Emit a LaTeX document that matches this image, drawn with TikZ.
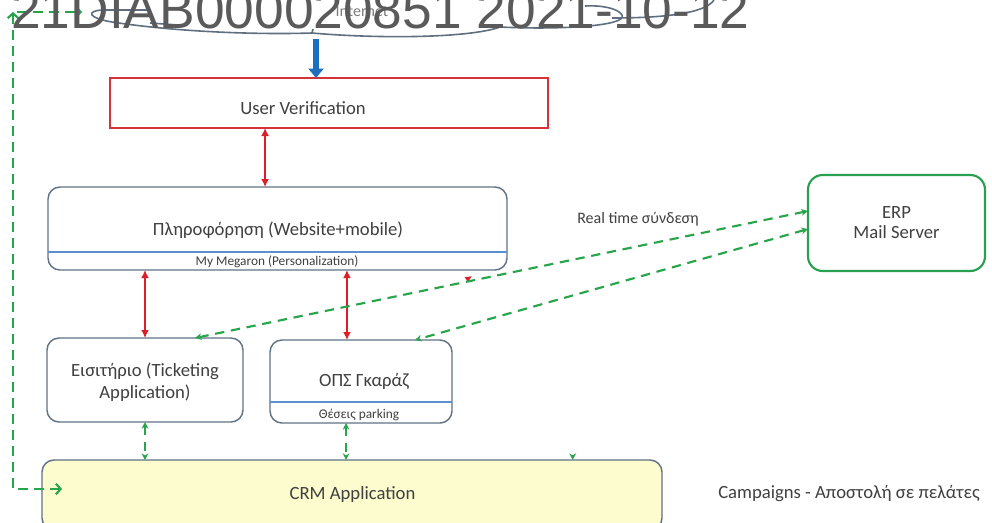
\documentclass[tikz,border=0pt]{standalone}
\usepackage{fontspec}
\setmainfont{Carlito}
\newfontfamily\stampfont{Liberation Sans}
\usetikzlibrary{arrows.meta}
\usetikzlibrary{calc}

\begin{document}
\begin{tikzpicture}[x=0.75pt,y=0.75pt,yscale=-1,xscale=1,
  appbox/.style={draw={rgb, 255:red, 98; green, 114; blue, 135 }, line width=1.1pt, rounded corners=9pt, inner sep=0pt, outer sep=0pt},
  verifbox/.style={draw={rgb, 255:red, 214; green, 50; blue, 58 }, line width=1.3pt, inner sep=0pt, outer sep=0pt},
  erpbox/.style={draw={rgb, 255:red, 40; green, 160; blue, 80 }, line width=1.6pt, rounded corners=11pt, inner sep=0pt, outer sep=0pt, align=center, text={rgb, 255:red, 64; green, 64; blue, 64 }, font=\fontsize{14}{15}\selectfont},
  divider/.style={draw={rgb, 255:red, 91; green, 145; blue, 205 }, line width=0.9pt},
  cloudline/.style={draw={rgb, 255:red, 95; green, 111; blue, 128 }, line width=1.2pt},
  bluearrow/.style={draw={rgb, 255:red, 30; green, 110; blue, 190 }, line width=4.5pt, -{Triangle[width=11pt,length=7pt]}},
  redlink/.style={draw={rgb, 255:red, 220; green, 30; blue, 40 }, line width=1.5pt, {Latex[length=6pt,width=6pt]}-{Latex[length=6pt,width=6pt]}},
  greenlink/.style={draw={rgb, 255:red, 40; green, 165; blue, 75 }, line width=1.6pt, dash pattern=on 7pt off 5pt},
  gboth/.style={{Stealth[length=5pt,width=5pt]}-{Stealth[length=5pt,width=5pt]}},
  barbboth/.style={{Straight Barb[length=3.5pt,width=8pt]}-{Straight Barb[length=3.5pt,width=8pt]}},
  lbl/.style={text={rgb, 255:red, 64; green, 64; blue, 64 }, font=\fontsize{14}{16.5}\selectfont, inner sep=0pt, anchor=base},
  smalllbl/.style={lbl, font=\fontsize{10}{12}\selectfont}]
\useasboundingbox[fill=white] (0,0) rectangle (992,522);

%Shape: Cloud
\draw[cloudline] (148,10) -- (102,10) .. controls (86,11) and (88,18) .. (112,22) .. controls (170,31) and (250,35) .. (312,33) .. controls (380,39) and (470,38) .. (500,27) .. controls (560,30) and (628,26) .. (622,15) .. controls (618,8) and (600,5) .. (585,6) ;
\draw[cloudline] (612,18) .. controls (660,18) and (705,14) .. (714,0) ;
\draw[cloudline] (150,23) -- (178,25) ;
\draw[cloudline] (312,33) -- (313,29) ;
% Text Node
\node[lbl, font=\fontsize{12}{14}\selectfont, text={rgb, 255:red, 125; green, 125; blue, 125 }] (cloudText) at (362,16) {Internet};
\coordinate (cloudB) at (316,39);
\coordinate (cloudL) at (82,12);

%Shape: Rectangle
\node[verifbox, minimum width=328.5pt, minimum height=37.5pt] (verif) at (329,103) {};
%Shape: Rounded Rect
\node[appbox, minimum width=344.25pt, minimum height=62.25pt] (info) at (277.5,228.5) {};
\draw[divider] ($(info.south west)!0.217!(info.north west)$) -- ($(info.south east)!0.217!(info.north east)$) ;
%Shape: Rounded Rect
\node[appbox, minimum width=147pt, minimum height=63pt] (ticket) at (145,380) {};
%Shape: Rounded Rect
\node[appbox, minimum width=136.5pt, minimum height=62.25pt] (ops) at (361,381.5) {};
\draw[divider] ($(ops.south west)!0.253!(ops.north west)$) -- ($(ops.south east)!0.253!(ops.north east)$) ;
%Shape: Rounded Rect
\node[appbox, fill={rgb, 255:red, 252; green, 252; blue, 206 }, minimum width=465pt, minimum height=52.5pt] (crm) at (352,495) {};
%Shape: Rounded Rect
\node[erpbox, minimum width=132.75pt, minimum height=72pt] (erp) at (896.5,223) {ERP\\Mail Server};

%Straight Lines
\draw[bluearrow] (cloudB) -- (cloudB |- verif.north) ;
%Straight Lines
\coordinate (verifOut) at ($(verif.south west)!0.354!(verif.south east)$);
\draw[redlink] (verifOut) -- (verifOut |- info.north) ;
%Straight Lines
\draw[redlink] (info.south -| ticket.north) -- (ticket.north) ;
\coordinate (opsIn) at ($(ops.north west)!0.423!(ops.north east)$);
\draw[redlink] (info.south -| opsIn) -- (opsIn) ;
\coordinate (infoTip) at (472,276);
\draw[draw={rgb, 255:red, 220; green, 30; blue, 40 }, line width=1.2pt, -{Latex[length=5pt,width=5pt]}] ([xshift=-3pt,yshift=2pt]infoTip) -- (infoTip) ;

%Straight Lines
\draw[greenlink, gboth] (ticket.south) -- (ticket.south |- crm.north) ;
\coordinate (opsOut) at ($(ops.south west)!0.418!(ops.south east)$);
\draw[greenlink, gboth] (opsOut) -- (opsOut |- crm.north) ;
\coordinate (crmTip) at ($(crm.north west)!0.856!(crm.north east)$);
\draw[greenlink, -{Stealth[length=5pt,width=5pt]}] ([yshift=-4pt]crmTip) -- (crmTip) ;

%Straight Lines
\coordinate (erpA) at ($(erp.north west)!0.375!(erp.south west)$);
\coordinate (erpB) at ($(erp.north west)!0.563!(erp.south west)$);
\coordinate (ticketIn) at ($(ticket.north west)!0.755!(ticket.north east)$);
\coordinate (opsIn2) at ($(ops.north west)!0.797!(ops.north east)$);
\draw[greenlink, gboth] (erpA) -- (ticketIn) ;
\draw[greenlink, gboth] (erpB) -- (opsIn2) ;

%Straight Lines
\coordinate (crmIn) at (62,489);
\coordinate (loopTop) at (13,12);
\draw[greenlink, barbboth] (crmIn) -| (loopTop) -- (cloudL) ;
\draw[greenlink, -{Straight Barb[length=3.5pt,width=8pt]}] ([yshift=8pt]loopTop) -- (loopTop) ;

% Text Node
\node[lbl] (verifText) at (303,114) {User Verification};
% Text Node
\node[lbl] (infoText) at (278,235) {Πληροφόρηση (Website+mobile)};
% Text Node
\node[smalllbl] (infoSub) at (277,265) {My Megaron (Personalization)};
% Text Node
\node[lbl, anchor=center, align=center] (ticketText) at (145,382) {Εισιτήριο (Ticketing\\Application)};
% Text Node
\node[lbl] (opsText) at (364,386) {ΟΠΣ Γκαράζ};
% Text Node
\node[smalllbl] (opsSub) at (359,418) {Θέσεις parking};
% Text Node
\node[lbl] (crmText) at (352.5,499) {CRM Application};
% Text Node
\node[lbl, anchor=base west] (campText) at (718,498) {Campaigns - Αποστολή σε πελάτες};
% Text Node
\node[lbl, font=\fontsize{12}{14}\selectfont] (rtText) at (638,223) {Real time σύνδεση};

% Text Node
\node[anchor=base west, inner sep=0pt, font=\stampfont\fontsize{40}{40}\selectfont, text={rgb, 255:red, 90; green, 90; blue, 90 }] (stamp) at (11,28) {21DIAB000020851 2021-10-12};

\end{tikzpicture}
\end{document}
